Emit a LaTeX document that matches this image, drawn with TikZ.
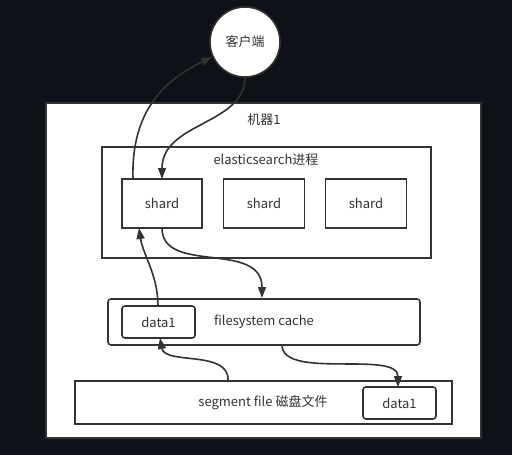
\documentclass[tikz,border=0pt]{standalone}
\usepackage{fontspec}
\setmainfont{Noto Sans CJK SC}
\usetikzlibrary{arrows.meta}
\definecolor{bg}{HTML}{0E1117}
\definecolor{ln}{HTML}{333333}
\tikzset{
  box/.style={draw=ln, line width=1.6pt, fill=white, inner sep=0pt},
  rbox/.style={box, rounded corners=3pt},
  lbl/.style={font=\fontsize{13}{15}\selectfont, text=ln, inner sep=0pt},
  conn/.style={draw=ln, line width=1.6pt, -{Triangle[length=11pt,width=8pt]}},
}
\begin{document}
\begin{tikzpicture}[x=1pt,y=-1pt]
\fill[bg] (0,0) rectangle (512,455);
\useasboundingbox (0,0) rectangle (512,455);
% client
\node[box, circle, minimum size=70pt] (client) at (245,42) {};
\node[lbl] (clientt) at (245,42) {客户端};
% machine
\draw[box] (46,103) rectangle (481,438);
\node[lbl] (m1) at (264,120) {机器1};
% es process
\draw[box] (102,147) rectangle (431,258);
\node[lbl] (es) at (266,160) {elasticsearch进程};
\node[box, minimum width=80pt, minimum height=49pt] (s1) at (162,203.5) {};
\node[lbl] at (s1) {shard};
\node[box, minimum width=81pt, minimum height=49pt] (s2) at (264,203.5) {};
\node[lbl] at (s2) {shard};
\node[box, minimum width=81pt, minimum height=49pt] (s3) at (366,203.5) {};
\node[lbl] at (s3) {shard};
% filesystem cache
\node[rbox, minimum width=312pt, minimum height=46pt] (fc) at (264,322) {};
\node[rbox, minimum width=73pt, minimum height=32pt] (d1) at (158.5,322) {};
\node[lbl] at (d1) {data1};
\node[lbl] (fct) at (264,322) {filesystem cache};
% segment file
\node[box, minimum width=377pt, minimum height=43pt] (sf) at (263.5,402.5) {};
\node[lbl] (sft) at (263,403) {segment file 磁盘文件};
\node[rbox, minimum width=73pt, minimum height=32pt] (d2) at (399.5,403) {};
\node[lbl] at (d2) {data1};
% coordinates
\coordinate (a1s) at (133,179);
\coordinate (a1e) at (212,57);
\coordinate (a2s) at (245,77);
\coordinate (a2e) at (162,179);
\coordinate (a3s) at (158,306);
\coordinate (a3e) at (139,228);
\coordinate (a4s) at (162,228);
\coordinate (a4e) at (262,298);
\coordinate (a5s) at (228,380);
\coordinate (a5e) at (160,338);
\coordinate (a6s) at (282,345);
\coordinate (a6e) at (398,387);
\draw[conn] (a1s) .. controls (131,110) and (165,80) .. (a1e);
\draw[conn] (a2s) .. controls (245,125) and (162,122) .. (a2e);
\draw[conn] (a3s) .. controls (158,275) and (143,255) .. (a3e);
\draw[conn] (a4s) .. controls (162,275) and (262,240) .. (a4e);
\draw[conn] (a5s) .. controls (229,350) and (165,365) .. (a5e);
\draw[conn] (a6s) .. controls (282,380) and (398,350) .. (a6e);
\end{tikzpicture}
\end{document}
